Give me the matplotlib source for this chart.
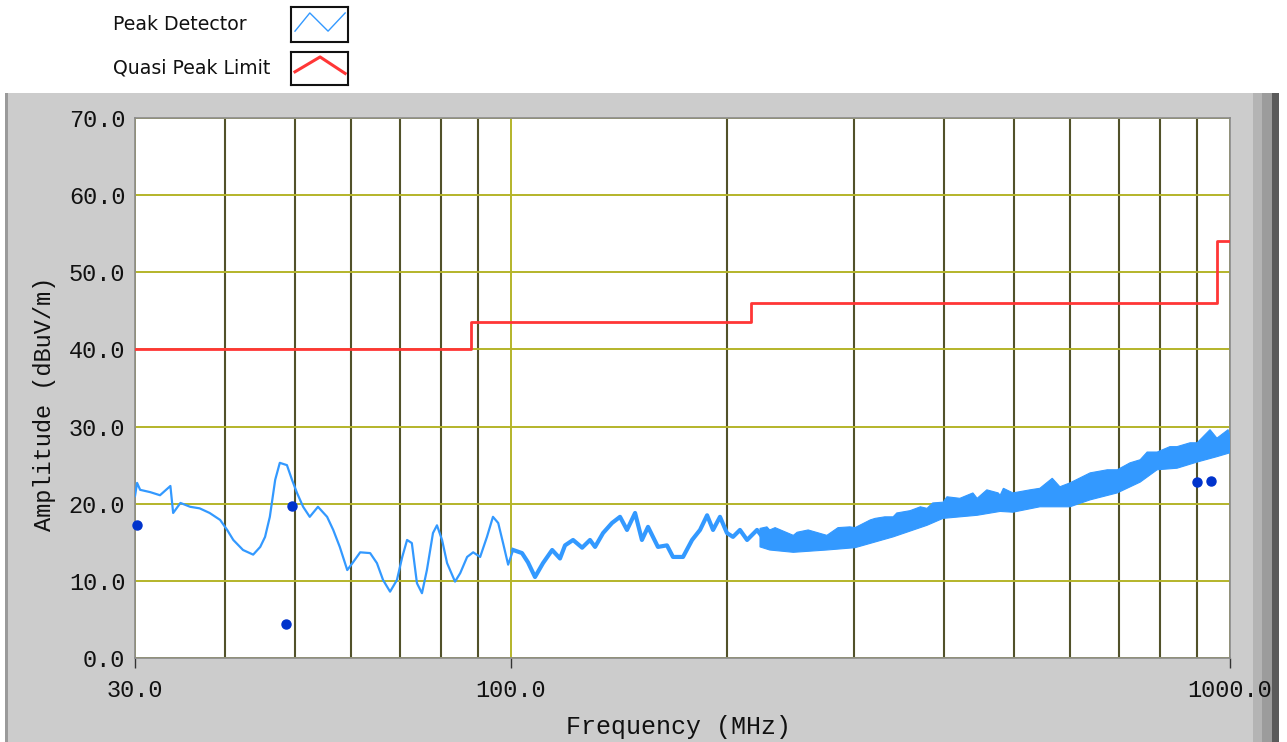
import numpy as np
import matplotlib.pyplot as plt
from matplotlib.patches import Rectangle
from matplotlib.ticker import FixedLocator, NullFormatter

# peak detector trace, 30 - 230 MHz
pk_freq = [30.0, 30.2, 30.5, 31.5, 32.5, 33.6, 33.9, 34.7, 35.8, 36.9, 38.1, 39.4,
           40.3, 41.1, 42.4, 43.8, 44.8, 45.5, 46.2, 47.0, 47.7, 48.8, 49.6, 50.4,
           51.4, 52.5, 53.9, 55.5, 56.6, 57.8, 59.2, 60.3, 61.7, 63.7, 65.1, 66.4,
           67.9, 69.4, 70.6, 71.7, 72.8, 74.0, 75.2, 76.4, 77.9, 78.9, 80.2, 81.5,
           83.6, 85.0, 86.9, 88.6, 90.6, 92.6, 94.4, 96.0, 97.5, 99.1, 100.7, 103.6,
           105.6, 108.0, 110.8, 114.1, 117.0, 118.9, 122.0, 125.6, 128.8, 130.9, 134.3,
           138.2, 141.8, 145.0, 148.8, 152.1, 155.1, 160.1, 164.8, 168.0, 173.5, 178.6,
           183.2, 187.4, 191.0, 195.3, 199.7, 203.6, 208.2, 213.0, 219.9, 227.0, 229.0]
pk_amp = [21.0, 22.7, 21.8, 21.5, 21.1, 22.3, 18.8, 20.1, 19.6, 19.4, 18.8, 17.9,
          16.6, 15.3, 14.0, 13.4, 14.4, 15.7, 18.3, 23.1, 25.3, 25.0, 23.1, 21.4,
          19.6, 18.3, 19.6, 18.3, 16.6, 14.4, 11.4, 12.4, 13.7, 13.6, 12.3, 10.1,
          8.6, 10.1, 13.1, 15.3, 14.9, 9.7, 8.4, 11.4, 16.2, 17.2, 15.3, 12.3,
          9.9, 11.0, 13.1, 13.7, 13.1, 15.7, 18.3, 17.5, 14.9, 12.1, 14.0, 13.6,
          12.4, 10.5, 12.3, 14.0, 12.9, 14.6, 15.3, 14.3, 15.3, 14.4, 16.2,
          17.5, 18.3, 16.6, 18.8, 15.3, 17.0, 14.4, 14.6, 13.1, 13.1, 15.3,
          16.6, 18.5, 16.6, 18.3, 16.2, 15.7, 16.6, 15.3, 16.6, 14.9, 15.3]

# noisy band of the trace above 220 MHz: top edge (with spikes) and bottom edge
top_freq = [222, 227, 229, 233, 247, 250, 259, 275, 285, 296, 301, 316, 321, 331,
            340, 344, 359, 371, 379, 386, 399, 404, 421, 439, 445, 459, 476, 479,
            484, 499, 527, 544, 566, 580, 599, 639, 675, 697, 726, 750, 767, 792,
            825, 844, 880, 900, 938, 959, 994, 1000]
top_amp = [16.8, 17.0, 16.6, 16.9, 15.9, 16.3, 16.6, 15.9, 16.9, 17.0, 16.9, 17.9, 18.1, 18.3,
           18.3, 18.8, 19.1, 19.6, 19.4, 20.1, 20.2, 20.9, 20.7, 21.4, 20.7, 21.8, 21.4, 21.1,
           22.0, 21.4, 21.8, 22.0, 23.3, 22.2, 22.7, 24.0, 24.4, 24.4, 25.3, 25.7, 26.7, 26.7,
           27.4, 27.4, 27.9, 27.9, 29.6, 28.5, 29.6, 28.6]
bot_freq = [222, 229, 247, 275, 301, 340, 379, 399, 445, 479, 499, 544,
            599, 639, 697, 750, 792, 844, 900, 959, 1000]
bot_amp = [14.4, 14.0, 13.7, 14.0, 14.3, 15.7, 17.2, 18.1, 18.5, 19.0, 18.9, 19.6,
           19.6, 20.5, 21.4, 22.8, 24.4, 24.6, 25.4, 26.1, 26.6]

# quasi peak limit (steps)
lim_freq = [30, 88, 88, 216, 216, 960, 960, 1000]
lim_amp = [40.0, 40.0, 43.5, 43.5, 46.0, 46.0, 54.0, 54.0]

# measured quasi peak points
qp_freq = [30.2, 48.7, 49.6, 900, 941]
qp_amp = [17.2, 4.4, 19.7, 22.8, 22.9]

c_trace = "#3399ff"
c_limit = "#ff3636"
c_dot = "#0033cc"
c_major = "#b4b42a"
c_minor = "#52522a"
panel = "#cccccc"

fig = plt.figure(figsize=(12.87, 7.42), dpi=100)
fig.patch.set_facecolor("white")

W, H = 1287.0, 742.0
# grey panel with a raised frame on the right, drawn in a background axes
bg = fig.add_axes([0, 0, 1, 1], zorder=-5)
bg.set_xlim(0, W)
bg.set_ylim(H, 0)
bg.axis("off")
bg.add_patch(Rectangle((5, 93), 1248, 649, facecolor=panel, edgecolor="none"))
bg.add_patch(Rectangle((5, 93), 3, 649, facecolor="#9a9a9a", edgecolor="none"))
for x0, x1, c in [(1253, 1262, "#b4b4b4"), (1262, 1272, "#9c9c9c"), (1272, 1279, "#5a5a5a")]:
    bg.add_patch(Rectangle((x0, 93), x1 - x0, 649, facecolor=c, edgecolor="none"))

ax = fig.add_axes([135 / W, 1 - 658 / H, 1095 / W, 540 / H], zorder=2)
ax.set_facecolor("white")
ax.set_xscale("log")
ax.set_xlim(30, 1000)
ax.set_ylim(0, 70)

ax.xaxis.set_major_locator(FixedLocator([30, 100, 1000]))
ax.xaxis.set_minor_locator(FixedLocator([40, 50, 60, 70, 80, 90, 200, 300, 400, 500, 600, 700, 800, 900]))
ax.xaxis.set_minor_formatter(NullFormatter())
ax.set_xticklabels(["30.0", "100.0", "1000.0"])
ax.set_yticks(np.arange(0, 71, 10))
ax.set_yticklabels(["%.1f" % v for v in np.arange(0, 71, 10)])

ax.grid(True, axis="y", which="major", color=c_major, lw=1.4, zorder=1)
ax.grid(True, axis="x", which="minor", color=c_minor, lw=1.5, zorder=1)
ax.grid(True, axis="x", which="major", color=c_major, lw=1.4, zorder=1)

mono = "Liberation Mono"
ax.tick_params(axis="x", which="major", length=7, width=1, color="#333333", pad=8,
               labelsize=17, labelcolor="#111111")
ax.tick_params(axis="x", which="minor", length=0)
ax.tick_params(axis="y", length=0, pad=7, labelsize=17, labelcolor="#111111")
for lab in ax.get_xticklabels() + ax.get_yticklabels():
    lab.set_family(mono)
for s in ax.spines.values():
    s.set_color("#8a8a8a")
    s.set_linewidth(1.2)

# band drawn as one polygon: top edge forward, bottom edge back
ax.fill(list(top_freq) + bot_freq[::-1], list(top_amp) + bot_amp[::-1],
        color=c_trace, lw=0.8, ec=c_trace, zorder=3)
ax.plot(pk_freq, pk_amp, color=c_trace, lw=1.6, zorder=3)
ax.plot(pk_freq[58:], pk_amp[58:], color=c_trace, lw=3.0, zorder=3)
ax.plot(lim_freq, lim_amp, color=c_limit, lw=2.0, zorder=4)
ax.plot(qp_freq, qp_amp, "o", color=c_dot, ms=6.5, zorder=5, clip_on=False)

fig.text(45 / W, 1 - 404 / H, "Amplitude (dBuV/m)", rotation=90, ha="center", va="center",
         family=mono, fontsize=17, color="#111111")
fig.text(678 / W, 1 - 727 / H, "Frequency (MHz)", ha="center", va="center",
         family=mono, fontsize=18, color="#111111")

# legend
fig.text(113 / W, 1 - 25 / H, "Peak Detector", ha="left", va="center", fontsize=13.6,
         family="DejaVu Sans", color="#111111")
fig.text(113 / W, 1 - 68 / H, "Quasi Peak Limit", ha="left", va="center", fontsize=13.6,
         family="DejaVu Sans", color="#111111")
lg1 = fig.add_axes([291 / W, 1 - 42 / H, 57 / W, 35 / H])
lg1.plot([0.07, 0.33, 0.65, 0.95], [0.31, 0.83, 0.31, 0.83], color=c_trace, lw=1.0)
lg2 = fig.add_axes([291 / W, 1 - 85 / H, 57 / W, 33 / H])
lg2.plot([0.07, 0.51, 0.95], [0.40, 0.85, 0.35], color=c_limit, lw=2.2)
for lg in (lg1, lg2):
    lg.set_xlim(0, 1)
    lg.set_ylim(0, 1)
    lg.set_xticks([])
    lg.set_yticks([])
    for s in lg.spines.values():
        s.set_color("#111111")
        s.set_linewidth(1.5)

fig.savefig("out.png", dpi=100)
